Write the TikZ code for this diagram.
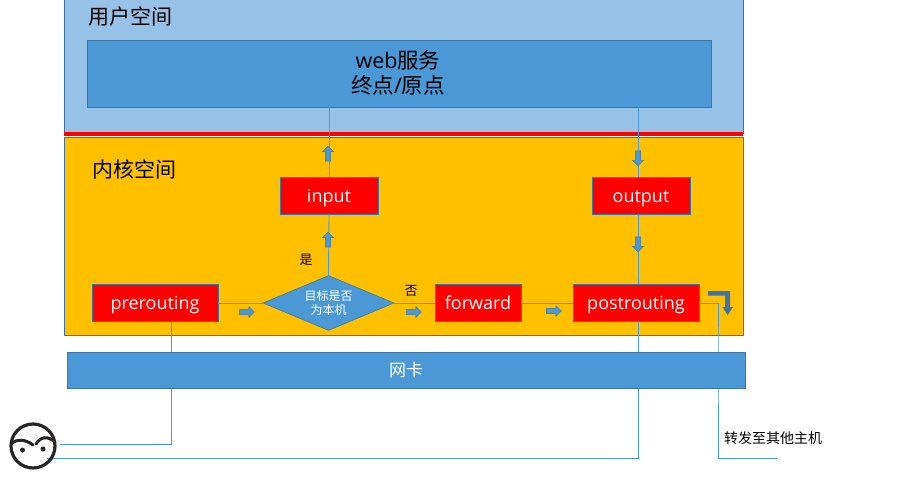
\documentclass[tikz,border=0pt]{standalone}
\usepackage{fontspec}
\setmainfont{Open Sans}
\newfontfamily\cjk{Noto Sans CJK SC}
\usetikzlibrary{shapes,arrows,positioning}
\definecolor{userblue}{HTML}{97C2E8}
\definecolor{boxblue}{HTML}{4B98D7}
\definecolor{edgeblue}{HTML}{3C76A8}
\definecolor{kernelorange}{HTML}{FFC000}

\begin{document}
\begin{tikzpicture}[
    x=1pt, y=-1pt,
    region/.style={rectangle, draw=edgeblue, line width=0.8pt, inner sep=0},
    hook/.style={rectangle, draw=edgeblue, line width=0.8pt, fill=red, text=white, inner sep=0, minimum height=37pt, text height=14pt, text depth=2pt, font=\fontsize{18}{20}\selectfont},
    decision/.style={diamond, draw=edgeblue, line width=0.6pt, fill=boxblue, text=white, inner sep=0, aspect=2.38, minimum width=131pt, minimum height=55pt, align=center, font=\cjk\fontsize{12}{13.5}\selectfont},
    line/.style={draw=boxblue, line width=0.9pt},
    flow/.style={single arrow, draw=edgeblue, line width=0.5pt, fill=boxblue, inner sep=2.2pt, minimum height=15pt, minimum width=11pt, single arrow head extend=2.5pt},
    caption/.style={inner sep=0, font=\cjk\fontsize{21}{24}\selectfont},
    small/.style={inner sep=0, font=\cjk\fontsize{13}{15}\selectfont}
  ]
    \useasboundingbox (0,0) rectangle (908,489);

    \node [region, fill=userblue, minimum width=679pt, minimum height=134pt] (userspace) at (403.5,66) {};
    \node [region, fill=kernelorange, minimum width=679pt, minimum height=197.5pt] (kernelspace) at (403.5,236.25) {};
    \fill [red] (64,132) rectangle (743,136);

    % lines go under the boxes
    \coordinate (faceright) at (60,444);
    \coordinate (facelow) at (47,458);
    \coordinate (otherhost) at (777,458);
    \node [region, fill=boxblue, minimum width=624pt, minimum height=67pt] (web) at (399,73.5) {};
    \node [hook, minimum width=98pt, text height=15.5pt, text depth=0.5pt] (input) at (329,195.5) {input};
    \node [hook, minimum width=98pt, text height=15.5pt, text depth=0.5pt] (output) at (641,195.5) {output};
    \node [hook, minimum width=126pt] (prerouting) at (155,303) {prerouting};
    \node [decision] (target) at (328.5,303) {目标是否\\为本机};
    \node [hook, minimum width=86pt] (forward) at (478,303) {forward};
    \node [hook, minimum width=126pt] (postrouting) at (636,303) {postrouting};

    \path [line] ([xshift=-70pt]web.south) -- (input.north);
    \path [line] ([xshift=239pt]web.south) -- ([xshift=-3pt]output.north);
    \path [line] (input.south) -- (target.north);
    \path [line] ([xshift=-3pt]output.south) -- ([xshift=2pt]postrouting.north);
    \path [line] (prerouting.east) -- (target.west);
    \path [line] (target.east) -- (forward.west);
    \path [line] (forward.east) -- (postrouting.west);
    \path [line] ([xshift=16pt]prerouting.south) |- (faceright);
    \path [line] ([xshift=2pt]postrouting.south) |- (facelow);
    \path [line] (postrouting.east) -| (718,350) |- (otherhost);

    \node [region, fill=boxblue, text=white, minimum width=678pt, minimum height=36pt, font=\cjk\fontsize{17}{20}\selectfont] (nic) at (406,370) {网卡};

    \node [caption, anchor=west] (userlabel) at (88,17) {用户空间};
    \node [caption, anchor=west] (kernellabel) at (92,169) {内核空间};
    \node [caption, align=center, font=\fontsize{21.5}{25}\selectfont] (weblabel) at (398,73) {web{\cjk 服务}\\{\cjk 终点}/{\cjk 原点}};
    \node [small] (yes) at (306,260) {是};
    \node [small] (no) at (411,291) {否};
    \node [small, anchor=west, font=\cjk\fontsize{14}{16}\selectfont] (forwardnote) at (724,438) {转发至其他主机};

    \node [flow, rotate=90] (toinput) at (328,155) {};
    \node [flow, rotate=-90] (fromweb) at (638,157) {};
    \node [flow, rotate=90] (yesarrow) at (328,241) {};
    \node [flow, rotate=-90] (downarrow) at (638,243) {};
    \node [flow] (inarrow) at (245.5,312) {};
    \node [flow] (noarrow) at (412.5,312) {};
    \node [flow] (fwdarrow) at (552.5,311) {};
    % bent arrow next to postrouting
    \fill [edgeblue] (708,291) -- (730,291) -- (730,307) -- (733,307) -- (727.5,315) -- (722.5,307) -- (725,307) -- (725,295.5) -- (708,295.5) -- cycle;

    \node [circle, draw=black!85, line width=3.2pt, minimum size=44pt, inner sep=0] (face) at (33,446) {};
    \draw [line width=3pt, black!85, line cap=round] (12,443) .. controls (17,439) and (25,439) .. (33,445);
    \draw [line width=3pt, black!85, line cap=round] (36,444) .. controls (41,436) and (48,436) .. (55,442);
    \fill [black!85] (22.5,450) circle (2.5pt);
    \fill [black!85] (43,449) circle (2.5pt);
\end{tikzpicture}
\end{document}
